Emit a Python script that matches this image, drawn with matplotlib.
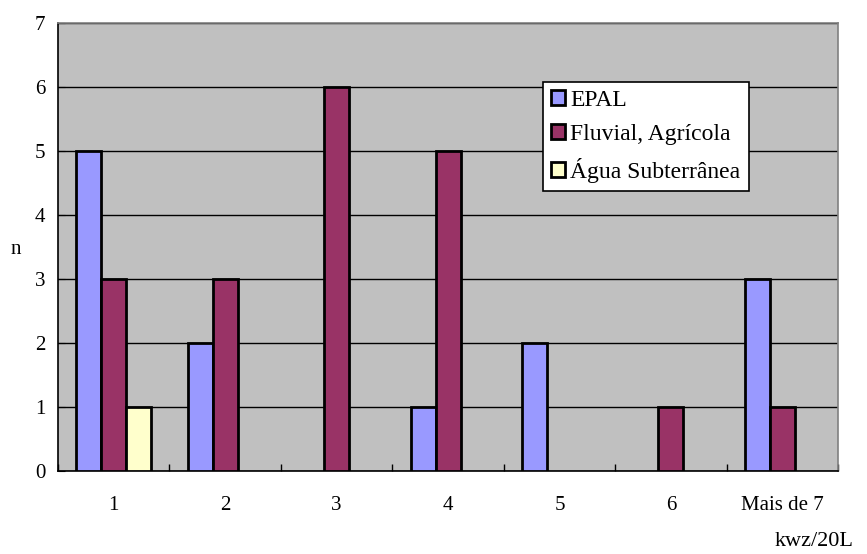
import numpy as np
import matplotlib
matplotlib.use("Agg")
import matplotlib.pyplot as plt

# data
categories = ["1", "2", "3", "4", "5", "6", "Mais de 7"]
epal = [5, 2, 0, 1, 2, 0, 3]
fluvial = [3, 3, 6, 5, 0, 1, 1]
agua = [1, 0, 0, 0, 0, 0, 0]
series_names = ["EPAL", "Fluvial, Agrícola", "Água Subterrânea"]
colors = ["#9999FF", "#993366", "#FFFFCC"]

plt.rcParams['font.family'] = ['Liberation Serif', 'DejaVu Serif']

fig = plt.figure(figsize=(8.67, 5.54), dpi=100)
ax = fig.add_axes([0.0669, 0.1498, 0.8997, 0.8087])
ax.set_facecolor("#C0C0C0")

x = np.arange(len(categories))
w = 0.224
handles = []
for k, (vals, name, col) in enumerate(zip([epal, fluvial, agua], series_names, colors)):
    vals = np.array(vals)
    m = vals > 0
    ax.bar(x[m] + (k - 1) * w, vals[m], width=w, color=col,
           edgecolor="black", linewidth=2, zorder=3)
    handles.append(plt.Rectangle((0, 0), 1, 1, facecolor=col,
                                 edgecolor="black", linewidth=2))

ax.set_xlim(-0.5, len(categories) - 0.5)
ax.set_ylim(0, 7)
ax.set_yticks(range(8))
ax.yaxis.grid(True, color="black", linewidth=1, zorder=1)
ax.set_axisbelow(True)

ax.set_xticks(x)
ax.set_xticklabels(categories, fontsize=15)
ax.set_xticks(np.arange(-0.5, len(categories)), minor=True)
ax.tick_params(axis="x", which="major", length=0, pad=18)
ax.tick_params(axis="x", which="minor", direction="in", length=5, width=1)
ax.tick_params(axis="y", direction="in", length=5, labelsize=15, pad=9)

for s in ["top", "right"]:
    ax.spines[s].set_color("#808080")
    ax.spines[s].set_linewidth(1.2)
for s in ["left", "bottom"]:
    ax.spines[s].set_color("black")
    ax.spines[s].set_linewidth(1.2)

fig.text(16 / 867, 1 - 250 / 554, "n", fontsize=15, ha="center", va="center")
fig.text(814 / 867, 1 - 541 / 554, "kwz/20L", fontsize=16, ha="center", va="center")

leg = ax.legend(handles, series_names, loc="upper left",
                bbox_to_anchor=((543 - 58) / 780, 1 - (82 - 23) / 448),
                fontsize=17, frameon=True, fancybox=False, framealpha=1,
                edgecolor="black", handlelength=0.6, handleheight=0.6,
                handletextpad=0.2, borderpad=0.35, labelspacing=0.55,
                borderaxespad=0)
leg.get_frame().set_linewidth(1.2)

fig.savefig("out.png", dpi=100, facecolor="white")
